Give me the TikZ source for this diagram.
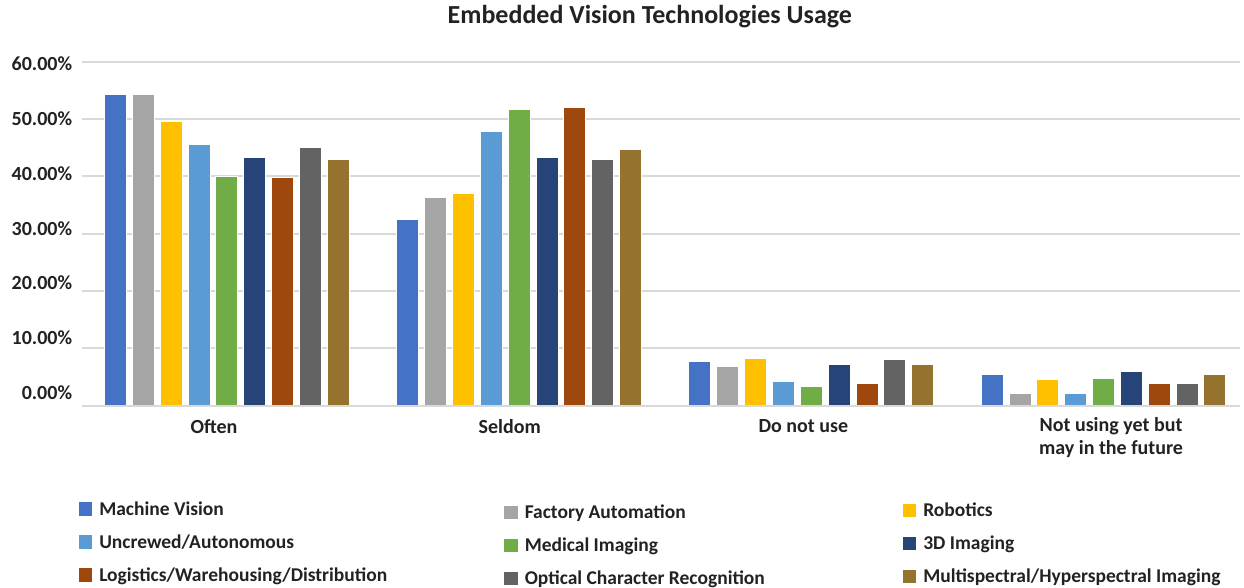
\documentclass[tikz,border=0pt]{standalone}
\usepackage{fontspec}
\setmainfont{Carlito}
\usepackage{tikz}
\usetikzlibrary{positioning}

\definecolor{series0}{HTML}{4472C4}
\definecolor{series1}{HTML}{A5A5A5}
\definecolor{series2}{HTML}{FFC000}
\definecolor{series3}{HTML}{5B9BD5}
\definecolor{series4}{HTML}{70AD47}
\definecolor{series5}{HTML}{264478}
\definecolor{series6}{HTML}{9E480E}
\definecolor{series7}{HTML}{636363}
\definecolor{series8}{HTML}{95732E}
\definecolor{gridgray}{HTML}{D9D9D9}
\definecolor{inkgray}{HTML}{222222}

\tikzstyle{titletext} = [font=\bfseries\fontsize{26}{30}\selectfont, text=inkgray, inner sep=0pt]
\tikzstyle{ticklabel} = [anchor=east, font=\bfseries\fontsize{20}{23}\selectfont, text=inkgray, inner sep=0pt, text height=12.8pt, text depth=0pt]
\tikzstyle{catlabel} = [font=\bfseries\fontsize{20}{23}\selectfont, text=inkgray, inner sep=0pt, align=center]
\tikzstyle{gridline} = [draw=gridgray, line width=1.8pt]
\tikzstyle{bar} = [draw=white, line width=0.5pt]
\tikzstyle{legendkey} = [minimum size=13.5pt, inner sep=0pt]
\tikzstyle{legendtext} = [font=\bfseries\fontsize{19.5}{23}\selectfont, text=inkgray, inner sep=0pt, text height=12.6pt, text depth=0pt]

\begin{document}
\begin{tikzpicture}[x=1pt, y=-1pt, node distance=19pt]
                    \useasboundingbox (0,0) rectangle (1244,588);
                    \node[titletext] (title) at (649.8,17) {Embedded Vision Technologies Usage};
                    % value axis
                    \foreach \k in {1,...,6}
                        \draw[gridline] (81.7,{405.7-57.33*\k}) -- (1240,{405.7-57.33*\k});
                    \foreach \t [count=\k from 0] in {0.00,10.00,20.00,30.00,40.00,50.00,60.00}
                        \node[ticklabel] (tick\k) at (72.3,{393-54.8*\k}) {\t\%};
                    % one group of nine bars per answer
                    \foreach \vals [count=\g from 0] in {
                        {54.3,54.3,49.7,45.6,40.1,43.3,39.8,45.0,43.0},
                        {32.5,36.3,37.1,47.9,51.7,43.3,52.0,43.0,44.7},
                        {7.74,6.92,8.3,4.26,3.31,7.15,3.95,8.04,7.15},
                        {5.48,2.22,4.54,2.22,4.83,6.0,3.96,3.96,5.48}}
                        \foreach \v [count=\i from 0] in \vals
                            \filldraw[bar, fill=series\i] ({104.3+292.2*\g+27.85*\i},405.7) rectangle ++(22,{-5.733*\v});
                    \draw[gridline] (81.7,405.7) -- (1240,405.7);
                    \node[catlabel] (often) at (214,426.5) {Often};
                    \node[catlabel] (seldom) at (509.7,426.5) {Seldom};
                    \node[catlabel] (notuse) at (803.3,426.5) {Do not use};
                    \node[catlabel, anchor=north] (future) at (1111,417) {Not using yet but\\may in the future};
                    % legend
                    \node[legendkey, fill=series0] (keyMachine) at (85.3,509) {};
                    \node[legendkey, fill=series3, below=of keyMachine] (keyUncrewed) {};
                    \node[legendkey, fill=series6, below=of keyUncrewed] (keyLogistics) {};
                    \node[legendkey, fill=series1] (keyFactory) at (510.8,512.5) {};
                    \node[legendkey, fill=series4, below=of keyFactory] (keyMedical) {};
                    \node[legendkey, fill=series7, below=of keyMedical] (keyOCR) {};
                    \node[legendkey, fill=series2] (keyRobotics) at (909.3,510.5) {};
                    \node[legendkey, fill=series5, below=of keyRobotics] (key3D) {};
                    \node[legendkey, fill=series8, below=of key3D] (keySpectral) {};
                    \node[legendtext, right=6.8pt of keyMachine] (txtMachine) {Machine Vision};
                    \node[legendtext, right=6.8pt of keyUncrewed] (txtUncrewed) {Uncrewed/Autonomous};
                    \node[legendtext, right=6.8pt of keyLogistics] (txtLogistics) {Logistics/Warehousing/Distribution};
                    \node[legendtext, right=6.8pt of keyFactory] (txtFactory) {Factory Automation};
                    \node[legendtext, right=6.8pt of keyMedical] (txtMedical) {Medical Imaging};
                    \node[legendtext, right=6.8pt of keyOCR] (txtOCR) {Optical Character Recognition};
                    \node[legendtext, right=6.8pt of keyRobotics] (txtRobotics) {Robotics};
                    \node[legendtext, right=6.8pt of key3D] (txt3D) {3D Imaging};
                    \node[legendtext, right=6.8pt of keySpectral] (txtSpectral) {Multispectral/Hyperspectral Imaging};
                \end{tikzpicture}
\end{document}
